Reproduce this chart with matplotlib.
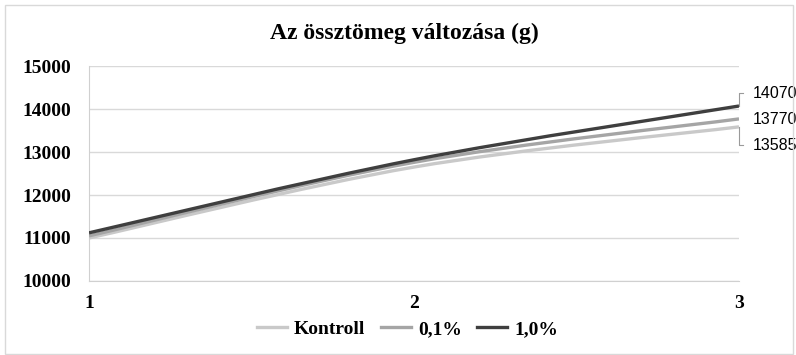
import numpy as np
import matplotlib
matplotlib.use("Agg")
import matplotlib.pyplot as plt
import matplotlib.transforms as mtransforms
from matplotlib.path import Path
from matplotlib.patches import PathPatch, Rectangle
from matplotlib.lines import Line2D

# measurement points and total mass (g) per group
points = [1, 2, 3]
kontroll = [11000, 12650, 13585]
szazad_01 = [11050, 12760, 13770]
szazad_10 = [11120, 12820, 14070]

series_names = ["Kontroll", "0,1%", "1,0%"]
series_colors = ["#c9c9c9", "#a5a5a5", "#3f3f3f"]
y_ticks = [10000, 11000, 12000, 13000, 14000, 15000]

serif = "Liberation Serif"
sans = "Liberation Sans"


def smooth_path(xs, ys):
    """Bezier path through the points, like a spreadsheet 'smoothed line'."""
    pts = np.column_stack([xs, ys]).astype(float)
    ext = np.vstack([pts[0], pts, pts[-1]])
    verts = [pts[0]]
    codes = [Path.MOVETO]
    for i in range(len(pts) - 1):
        p0, p1, p2, p3 = ext[i], ext[i + 1], ext[i + 2], ext[i + 3]
        c1 = p1 + (p2 - p0) / 6.0
        c2 = p2 - (p3 - p1) / 6.0
        verts += [c1, c2, p2]
        codes += [Path.CURVE4] * 3
    return Path(verts, codes)


fig = plt.figure(figsize=(7.96, 3.55), dpi=100)
fig.patches.append(Rectangle((0.006, 0.003), 0.99, 0.983, transform=fig.transFigure,
                             fill=False, edgecolor="#d9d9d9", linewidth=1))

ax = fig.add_axes([0.1118, 0.2085, 0.8166, 0.6055])
ax.set_xlim(1, 3)
ax.set_ylim(10000, 15000)

for vals, color in zip([kontroll, szazad_01, szazad_10], series_colors):
    ax.add_patch(PathPatch(smooth_path(points, vals), facecolor="none",
                           edgecolor=color, linewidth=2.4, capstyle="butt", zorder=3))

ax.set_yticks(y_ticks)
ax.set_yticklabels([str(v) for v in y_ticks], fontfamily=serif, fontweight="bold", fontsize=14)
ax.set_xticks(points)
ax.set_xticklabels([str(p) for p in points], fontfamily=serif, fontweight="bold", fontsize=14)
ax.tick_params(axis="both", length=0)
ax.tick_params(axis="y", pad=13)
ax.tick_params(axis="x", pad=10)
ax.grid(axis="y", color="#d9d9d9", linewidth=1)
for side in ["top", "right"]:
    ax.spines[side].set_visible(False)
ax.spines["left"].set_color("#d0d0d0")
ax.spines["bottom"].set_color("#d0d0d0")

fig.text(0.508, 0.907, "Az össztömeg változása (g)", fontfamily=serif, fontweight="bold",
         fontsize=17, ha="center", va="center")

# end-of-line value labels, two of them with leader lines
label_y = [13000 - 1000 * (144 - 151) / 43,
           13000 + 1000 * (151 - 118) / 43,
           14000 + 1000 * (108 - 92) / 43]
has_leader = [True, False, True]
text_tr = mtransforms.offset_copy(ax.transData, fig=fig, x=14, y=0, units="dots")
tick_dx = 2 * 4 / 650
for vals, ly, leader in zip([kontroll, szazad_01, szazad_10], label_y, has_leader):
    ax.text(3, ly, str(vals[-1]), transform=text_tr, fontfamily=sans, fontsize=11.5,
            va="center", ha="left", clip_on=False)
    if leader:
        ax.plot([3, 3, 3 + tick_dx], [vals[-1], ly, ly], color="#9a9a9a",
                linewidth=0.8, clip_on=False)

handles = [Line2D([], [], color=c, linewidth=2.4) for c in series_colors]
fig.legend(handles, series_names, loc="center", bbox_to_anchor=(0.512, 0.073), ncol=3,
           frameon=False, handlelength=1.55, handletextpad=0.35, columnspacing=0.8,
           prop={"family": serif, "weight": "bold", "size": 14})

fig.savefig("out.png", dpi=100)
